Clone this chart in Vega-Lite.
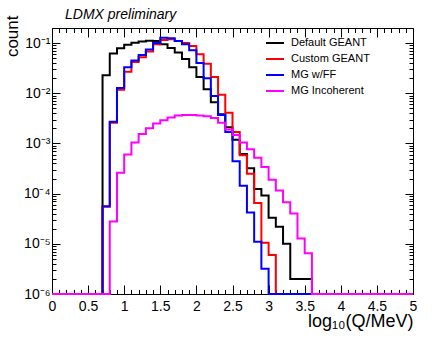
{
  "$schema": "https://vega.github.io/schema/vega-lite/v6.json",
  "width": 361,
  "height": 266,
  "autosize": {"type": "none"},
  "padding": {"left": 52, "top": 28, "right": 23, "bottom": 44},
  "background": "white",
  "title": {"text": "LDMX preliminary", "anchor": "start", "font": "Liberation Sans", "fontStyle": "italic", "fontWeight": "normal", "fontSize": 14, "color": "black", "dx": 62, "dy": 27.5, "offset": 10, "baseline": "alphabetic"},
  "data": {"values": [
    {"s": "Default GEANT", "x": 0, "y": 1e-6},
    {"s": "Default GEANT", "x": 0.7, "y": 0.023},
    {"s": "Default GEANT", "x": 0.8, "y": 0.062},
    {"s": "Default GEANT", "x": 0.9, "y": 0.079},
    {"s": "Default GEANT", "x": 1.0, "y": 0.093},
    {"s": "Default GEANT", "x": 1.1, "y": 0.102},
    {"s": "Default GEANT", "x": 1.2, "y": 0.108},
    {"s": "Default GEANT", "x": 1.3, "y": 0.112},
    {"s": "Default GEANT", "x": 1.4, "y": 0.11},
    {"s": "Default GEANT", "x": 1.5, "y": 0.095},
    {"s": "Default GEANT", "x": 1.6, "y": 0.08},
    {"s": "Default GEANT", "x": 1.7, "y": 0.065},
    {"s": "Default GEANT", "x": 1.8, "y": 0.048},
    {"s": "Default GEANT", "x": 1.9, "y": 0.033},
    {"s": "Default GEANT", "x": 2.0, "y": 0.021},
    {"s": "Default GEANT", "x": 2.1, "y": 0.012},
    {"s": "Default GEANT", "x": 2.2, "y": 0.0066},
    {"s": "Default GEANT", "x": 2.3, "y": 0.0038},
    {"s": "Default GEANT", "x": 2.4, "y": 0.0021},
    {"s": "Default GEANT", "x": 2.5, "y": 0.00118},
    {"s": "Default GEANT", "x": 2.6, "y": 0.00062},
    {"s": "Default GEANT", "x": 2.7, "y": 0.00032},
    {"s": "Default GEANT", "x": 2.8, "y": 0.000124},
    {"s": "Default GEANT", "x": 2.9, "y": 0.000092},
    {"s": "Default GEANT", "x": 3.0, "y": 0.000033},
    {"s": "Default GEANT", "x": 3.1, "y": 0.000022},
    {"s": "Default GEANT", "x": 3.2, "y": 0.00001},
    {"s": "Default GEANT", "x": 3.3, "y": 2e-6},
    {"s": "Default GEANT", "x": 3.4, "y": 2e-6},
    {"s": "Default GEANT", "x": 3.5, "y": 2e-6},
    {"s": "Default GEANT", "x": 3.6, "y": 1e-6},
    {"s": "Default GEANT", "x": 5, "y": 1e-6},

    {"s": "Custom GEANT", "x": 0, "y": 1e-6},
    {"s": "Custom GEANT", "x": 0.7, "y": 0.000055},
    {"s": "Custom GEANT", "x": 0.8, "y": 0.0026},
    {"s": "Custom GEANT", "x": 0.9, "y": 0.0118},
    {"s": "Custom GEANT", "x": 1.0, "y": 0.027},
    {"s": "Custom GEANT", "x": 1.1, "y": 0.042},
    {"s": "Custom GEANT", "x": 1.2, "y": 0.052},
    {"s": "Custom GEANT", "x": 1.3, "y": 0.068},
    {"s": "Custom GEANT", "x": 1.4, "y": 0.095},
    {"s": "Custom GEANT", "x": 1.5, "y": 0.115},
    {"s": "Custom GEANT", "x": 1.6, "y": 0.12},
    {"s": "Custom GEANT", "x": 1.7, "y": 0.11},
    {"s": "Custom GEANT", "x": 1.8, "y": 0.1},
    {"s": "Custom GEANT", "x": 1.9, "y": 0.088},
    {"s": "Custom GEANT", "x": 2.0, "y": 0.06},
    {"s": "Custom GEANT", "x": 2.1, "y": 0.039},
    {"s": "Custom GEANT", "x": 2.2, "y": 0.021},
    {"s": "Custom GEANT", "x": 2.3, "y": 0.0094},
    {"s": "Custom GEANT", "x": 2.4, "y": 0.0041},
    {"s": "Custom GEANT", "x": 2.5, "y": 0.0017},
    {"s": "Custom GEANT", "x": 2.6, "y": 0.00058},
    {"s": "Custom GEANT", "x": 2.7, "y": 0.00025},
    {"s": "Custom GEANT", "x": 2.8, "y": 0.000065},
    {"s": "Custom GEANT", "x": 2.9, "y": 0.0000105},
    {"s": "Custom GEANT", "x": 3.0, "y": 0.000006},
    {"s": "Custom GEANT", "x": 3.1, "y": 1e-6},
    {"s": "Custom GEANT", "x": 5, "y": 1e-6},

    {"s": "MG w/FF", "x": 0, "y": 1e-6},
    {"s": "MG w/FF", "x": 0.7, "y": 0.000056},
    {"s": "MG w/FF", "x": 0.8, "y": 0.0027},
    {"s": "MG w/FF", "x": 0.9, "y": 0.0127},
    {"s": "MG w/FF", "x": 1.0, "y": 0.033},
    {"s": "MG w/FF", "x": 1.1, "y": 0.045},
    {"s": "MG w/FF", "x": 1.2, "y": 0.058},
    {"s": "MG w/FF", "x": 1.3, "y": 0.075},
    {"s": "MG w/FF", "x": 1.4, "y": 0.1},
    {"s": "MG w/FF", "x": 1.5, "y": 0.128},
    {"s": "MG w/FF", "x": 1.6, "y": 0.125},
    {"s": "MG w/FF", "x": 1.7, "y": 0.11},
    {"s": "MG w/FF", "x": 1.8, "y": 0.095},
    {"s": "MG w/FF", "x": 1.9, "y": 0.072},
    {"s": "MG w/FF", "x": 2.0, "y": 0.04},
    {"s": "MG w/FF", "x": 2.1, "y": 0.02},
    {"s": "MG w/FF", "x": 2.2, "y": 0.0088},
    {"s": "MG w/FF", "x": 2.3, "y": 0.0037},
    {"s": "MG w/FF", "x": 2.4, "y": 0.0017},
    {"s": "MG w/FF", "x": 2.5, "y": 0.00044},
    {"s": "MG w/FF", "x": 2.6, "y": 0.000144},
    {"s": "MG w/FF", "x": 2.7, "y": 0.000042},
    {"s": "MG w/FF", "x": 2.8, "y": 0.000011},
    {"s": "MG w/FF", "x": 2.9, "y": 0.0000032},
    {"s": "MG w/FF", "x": 3.0, "y": 1e-6},
    {"s": "MG w/FF", "x": 5, "y": 1e-6},

    {"s": "MG Incoherent", "x": 0, "y": 1e-6},
    {"s": "MG Incoherent", "x": 0.8, "y": 0.000028},
    {"s": "MG Incoherent", "x": 0.9, "y": 0.00026},
    {"s": "MG Incoherent", "x": 1.0, "y": 0.0006},
    {"s": "MG Incoherent", "x": 1.1, "y": 0.00105},
    {"s": "MG Incoherent", "x": 1.2, "y": 0.00154},
    {"s": "MG Incoherent", "x": 1.3, "y": 0.002},
    {"s": "MG Incoherent", "x": 1.4, "y": 0.0025},
    {"s": "MG Incoherent", "x": 1.5, "y": 0.0029},
    {"s": "MG Incoherent", "x": 1.6, "y": 0.0033},
    {"s": "MG Incoherent", "x": 1.7, "y": 0.0036},
    {"s": "MG Incoherent", "x": 1.8, "y": 0.0037},
    {"s": "MG Incoherent", "x": 1.9, "y": 0.0037},
    {"s": "MG Incoherent", "x": 2.0, "y": 0.0036},
    {"s": "MG Incoherent", "x": 2.1, "y": 0.0035},
    {"s": "MG Incoherent", "x": 2.2, "y": 0.0032},
    {"s": "MG Incoherent", "x": 2.3, "y": 0.0026},
    {"s": "MG Incoherent", "x": 2.4, "y": 0.0019},
    {"s": "MG Incoherent", "x": 2.5, "y": 0.00148},
    {"s": "MG Incoherent", "x": 2.6, "y": 0.00105},
    {"s": "MG Incoherent", "x": 2.7, "y": 0.00077},
    {"s": "MG Incoherent", "x": 2.8, "y": 0.00052},
    {"s": "MG Incoherent", "x": 2.9, "y": 0.00034},
    {"s": "MG Incoherent", "x": 3.0, "y": 0.00019},
    {"s": "MG Incoherent", "x": 3.1, "y": 0.000115},
    {"s": "MG Incoherent", "x": 3.2, "y": 0.000067},
    {"s": "MG Incoherent", "x": 3.3, "y": 0.00004},
    {"s": "MG Incoherent", "x": 3.4, "y": 0.0000127},
    {"s": "MG Incoherent", "x": 3.5, "y": 0.0000065},
    {"s": "MG Incoherent", "x": 3.6, "y": 1e-6},
    {"s": "MG Incoherent", "x": 5, "y": 1e-6}
  ]},
  "layer": [
    {
      "mark": {"type": "line", "interpolate": "step-after", "strokeWidth": 2},
      "encoding": {
        "x": {"field": "x", "type": "quantitative", "scale": {"domain": [0, 5], "nice": false, "zero": false},
          "axis": {"orient": "bottom",
            "values": [0,0.1,0.2,0.3,0.4,0.5,0.6,0.7,0.8,0.9,1,1.1,1.2,1.3,1.4,1.5,1.6,1.7,1.8,1.9,2,2.1,2.2,2.3,2.4,2.5,2.6,2.7,2.8,2.9,3,3.1,3.2,3.3,3.4,3.5,3.6,3.7,3.8,3.9,4,4.1,4.2,4.3,4.4,4.5,4.6,4.7,4.8,4.9,5],
            "labelExpr": "abs(datum.value*2-round(datum.value*2))<0.001 ? format(datum.value,'~g') : ''",
            "tickSize": {"condition": {"test": "abs(datum.value*2-round(datum.value*2))<0.001", "value": -9}, "value": -4.5},
            "labelPadding": 14, "labelFlush": false, "labelOverlap": false, "labelBaseline": "top",
            "labelFont": "Liberation Sans", "labelFontSize": 14, "labelColor": "black",
            "title": "log₁₀(Q/MeV)", "titleFont": "Liberation Sans", "titleFontSize": 18, "titleFontWeight": "normal", "titleColor": "black",
            "titleAnchor": "end", "titleAlign": "right", "titleBaseline": "alphabetic", "titleX": 361, "titleY": 32}},
        "y": {"field": "y", "type": "quantitative", "scale": {"type": "log", "domain": [1e-6, 0.2], "nice": false},
          "axis": {"orient": "left",
            "values": [1e-6,2e-6,3e-6,4e-6,5e-6,6e-6,7e-6,8e-6,9e-6,1e-5,2e-5,3e-5,4e-5,5e-5,6e-5,7e-5,8e-5,9e-5,1e-4,2e-4,3e-4,4e-4,5e-4,6e-4,7e-4,8e-4,9e-4,0.001,0.002,0.003,0.004,0.005,0.006,0.007,0.008,0.009,0.01,0.02,0.03,0.04,0.05,0.06,0.07,0.08,0.09,0.1,0.2],
            "labelExpr": "abs(log(datum.value)/LN10-round(log(datum.value)/LN10))<0.001 ? '10' + ['⁰','⁻¹','⁻²','⁻³','⁻⁴','⁻⁵','⁻⁶'][-round(log(datum.value)/LN10)] : ''",
            "tickSize": {"condition": {"test": "abs(log(datum.value)/LN10-round(log(datum.value)/LN10))<0.001", "value": -8}, "value": -4},
            "labelPadding": 10, "labelOverlap": false, "labelFlush": false,
            "labelFont": "Liberation Sans", "labelFontSize": 14, "labelColor": "black",
            "title": "count", "titleFont": "Liberation Sans", "titleFontSize": 17, "titleFontWeight": "normal", "titleColor": "black",
            "titleAnchor": "end", "titleAlign": "right", "titleBaseline": "alphabetic", "titleAngle": -90, "titleX": -35, "titleY": -13}},
        "color": {"field": "s", "type": "nominal",
          "scale": {"domain": ["Default GEANT", "Custom GEANT", "MG w/FF", "MG Incoherent"], "range": ["#000000", "#ff0000", "#0000ff", "#ff00ff"]},
          "legend": {"orient": "none", "legendX": 213, "legendY": 5, "title": null, "symbolType": "stroke", "symbolStrokeWidth": 2, "symbolSize": 324,
            "labelFont": "Liberation Sans", "labelFontSize": 11, "labelColor": "black", "labelOffset": 6, "rowPadding": 1, "padding": 0}},
        "order": {"field": "x", "type": "quantitative"}
      }
    },
    {
      "mark": {"type": "line", "opacity": 0},
      "encoding": {
        "x": {"field": "x", "type": "quantitative", "scale": {"domain": [0, 5], "nice": false, "zero": false},
          "axis": {"orient": "top", "labels": false, "title": null,
            "values": [0,0.1,0.2,0.3,0.4,0.5,0.6,0.7,0.8,0.9,1,1.1,1.2,1.3,1.4,1.5,1.6,1.7,1.8,1.9,2,2.1,2.2,2.3,2.4,2.5,2.6,2.7,2.8,2.9,3,3.1,3.2,3.3,3.4,3.5,3.6,3.7,3.8,3.9,4,4.1,4.2,4.3,4.4,4.5,4.6,4.7,4.8,4.9,5],
            "tickSize": {"condition": {"test": "abs(datum.value*2-round(datum.value*2))<0.001", "value": -9}, "value": -4.5}}},
        "y": {"field": "y", "type": "quantitative", "scale": {"type": "log", "domain": [1e-6, 0.2], "nice": false},
          "axis": {"orient": "right", "labels": false, "title": null,
            "values": [1e-6,2e-6,3e-6,4e-6,5e-6,6e-6,7e-6,8e-6,9e-6,1e-5,2e-5,3e-5,4e-5,5e-5,6e-5,7e-5,8e-5,9e-5,1e-4,2e-4,3e-4,4e-4,5e-4,6e-4,7e-4,8e-4,9e-4,0.001,0.002,0.003,0.004,0.005,0.006,0.007,0.008,0.009,0.01,0.02,0.03,0.04,0.05,0.06,0.07,0.08,0.09,0.1,0.2],
            "tickSize": {"condition": {"test": "abs(log(datum.value)/LN10-round(log(datum.value)/LN10))<0.001", "value": -8}, "value": -4}}},
        "detail": {"field": "s"}
      }
    }
  ],
  "resolve": {"axis": {"x": "independent", "y": "independent"}},
  "config": {
    "view": {"stroke": "black", "strokeWidth": 1},
    "axis": {"grid": false, "domainColor": "black", "domainWidth": 1, "tickColor": "black", "tickWidth": 1}
  }
}
